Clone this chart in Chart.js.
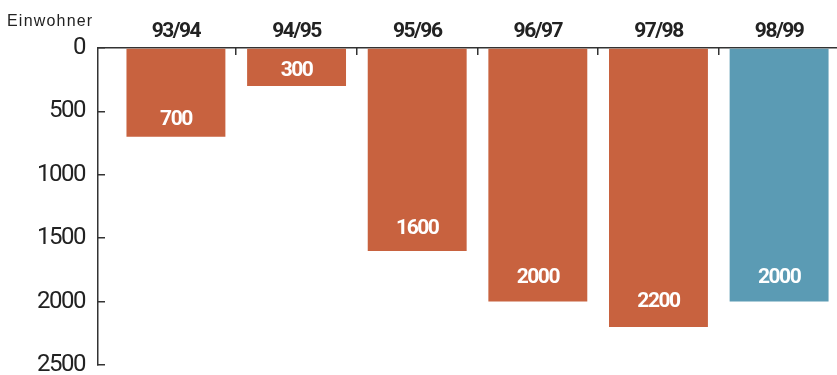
<!DOCTYPE html>
<html>
<head>
<meta charset="utf-8">
<script src="https://cdn.jsdelivr.net/npm/chart.js@4"></script>
<style>
  html, body { margin: 0; padding: 0; background: #fff; }
  #wrap { width: 837px; height: 375px; }
</style>
</head>
<body>
<div id="wrap"><canvas id="grafico"></canvas></div>
<script>
// Daten
var saisons = ["93/94", "94/95", "95/96", "96/97", "97/98", "98/99"];
var einwohner = [700, 300, 1600, 2000, 2200, 2000];
var farben = ["#C8623F", "#C8623F", "#C8623F", "#C8623F", "#C8623F", "#5B9BB4"];
var yTicks = [0, 500, 1000, 1500, 2000, 2500];
var einheit = "Einwohner";

var schrift = "Roboto, 'Liberation Sans', sans-serif";
var punkte = einwohner.map(function (v, i) { return { x: i, y: v }; });

// etwas enger laufende Schrift fuer Achsen (wie Condensed im Original)
var enger = {
  id: "enger",
  beforeDraw: function (chart) { chart.ctx.letterSpacing = "-1.5px"; },
  afterDraw: function (chart) { chart.ctx.letterSpacing = "0px"; }
};

// weisse Zahlen unten in den Balken + "Einwohner" oben links
var wertLabels = {
  id: "wertLabels",
  afterDatasetsDraw: function (chart) {
    var ctx = chart.ctx;
    var meta = chart.getDatasetMeta(0);
    ctx.save();
    ctx.letterSpacing = "-1.5px";
    ctx.fillStyle = "#fff";
    ctx.font = "bold 21px " + schrift;
    ctx.textAlign = "center";
    ctx.textBaseline = "middle";
    meta.data.forEach(function (bar, i) {
      var v = einwohner[i];
      ctx.fillText(String(v), bar.x, bar.y - (14 + v / 200));
    });
    ctx.restore();

    ctx.save();
    ctx.letterSpacing = "1.2px";
    ctx.fillStyle = "#222";
    ctx.font = "16px 'Liberation Sans', Arial, sans-serif";
    ctx.textAlign = "left";
    ctx.textBaseline = "alphabetic";
    ctx.fillText(einheit, 7, 26);
    ctx.restore();
  }
};

new Chart(document.getElementById("grafico"), {
  type: "bar",
  data: {
    datasets: [{
      data: punkte,
      backgroundColor: farben,
      borderWidth: 0,
      barPercentage: 1,
      categoryPercentage: 0.82
    }]
  },
  options: {
    responsive: true,
    maintainAspectRatio: false,
    animation: false,
    layout: { padding: { left: 7, top: 0, right: 0, bottom: 10 } },
    plugins: {
      legend: { display: false },
      tooltip: { enabled: false }
    },
    scales: {
      x: {
        type: "linear",
        position: "top",
        offset: false,
        min: -0.646,
        max: 5.48,
        afterBuildTicks: function (s) {
          s.ticks = saisons.map(function (_, i) { return { value: i }; });
        },
        afterFit: function (s) {
          s.height = 48;
          s.paddingLeft = 0; s.paddingRight = 0;
        },
        ticks: {
          autoSkip: false,
          maxRotation: 0,
          padding: 11,
          color: "#222",
          font: { family: schrift, size: 21, weight: "bold" },
          callback: function (v) { return saisons[v]; }
        },
        grid: {
          offset: true,
          drawOnChartArea: false,
          tickLength: -7,
          lineWidth: 1.5,
          color: function (c) { return c.index >= 1 ? "#333" : "transparent"; }
        },
        border: { color: "#333", width: 1.5 }
      },
      y: {
        type: "linear",
        reverse: true,
        min: 0,
        max: 2500,
        afterBuildTicks: function (s) {
          s.ticks = yTicks.map(function (v) { return { value: v }; });
        },
        afterFit: function (s) {
          s.width = 91;
          s.paddingTop = 0; s.paddingBottom = 0;
        },
        ticks: {
          padding: 20,
          color: "#222",
          font: { family: schrift, size: 24 },
          callback: function (v) { return String(v); }
        },
        grid: {
          drawOnChartArea: false,
          tickLength: -7,
          lineWidth: 1.5,
          color: "#333"
        },
        border: { color: "#333", width: 1.5 }
      }
    }
  },
  plugins: [enger, wertLabels]
});
</script>
</body>
</html>
